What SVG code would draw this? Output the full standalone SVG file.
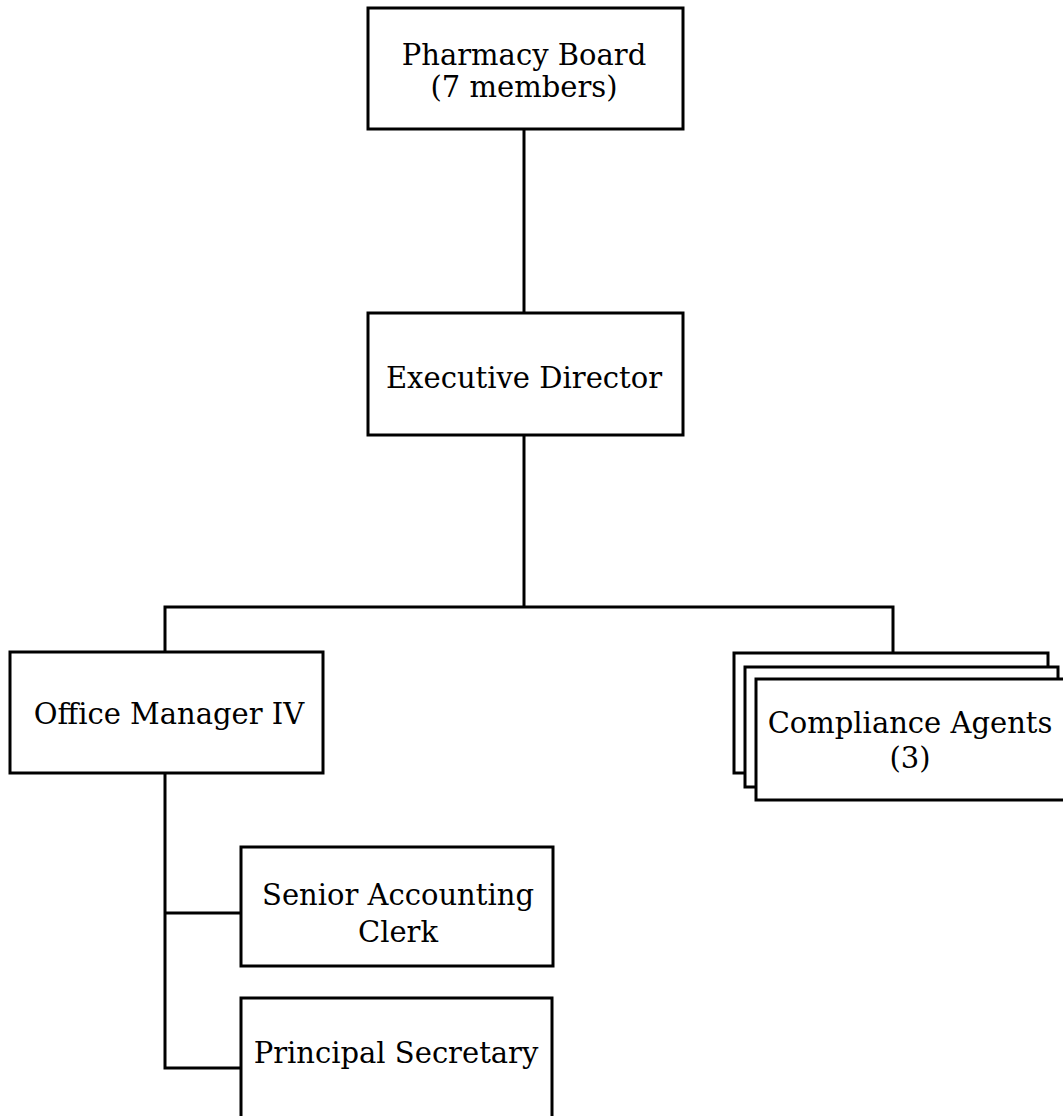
<svg xmlns="http://www.w3.org/2000/svg" width="1063" height="1116" viewBox="0 0 1063 1116">
<style>
.box{fill:#fff;stroke:#000;stroke-width:3}
.ln{fill:none;stroke:#000;stroke-width:3}
text{font-family:"DejaVu Serif","Liberation Serif",serif;font-size:29px;fill:#000;text-anchor:middle}
</style>
<rect width="1063" height="1116" fill="#fff"/>
<g id="connectors">
<path class="ln" d="M524,129 V313"/>
<path class="ln" d="M524,435 V607"/>
<path class="ln" d="M165,652 V607 H893 V653"/>
<path class="ln" d="M165,773 V1068 H241"/>
<path class="ln" d="M165,913 H241"/>
</g>
<g id="pharmacy-board">
<rect class="box" x="368" y="8" width="315" height="121"/>
<text x="524" y="65">Pharmacy Board</text>
<text x="524" y="97">(7 members)</text>
</g>
<g id="executive-director">
<rect class="box" x="368" y="313" width="315" height="122"/>
<text x="524" y="388">Executive Director</text>
</g>
<g id="office-manager">
<rect class="box" x="10" y="652" width="313" height="121"/>
<text x="169" y="724">Office Manager IV</text>
</g>
<g id="compliance-agents">
<rect class="box" x="734" y="653" width="314" height="120"/>
<rect class="box" x="745" y="667" width="313" height="120"/>
<rect class="box" x="756" y="679" width="320" height="121"/>
<text x="910" y="733">Compliance Agents</text>
<text x="910" y="768">(3)</text>
</g>
<g id="senior-accounting-clerk">
<rect class="box" x="241" y="847" width="312" height="119"/>
<text x="398" y="905">Senior Accounting</text>
<text x="398" y="942">Clerk</text>
</g>
<g id="principal-secretary">
<rect class="box" x="241" y="998" width="311" height="130"/>
<text x="396" y="1063">Principal Secretary</text>
</g>
</svg>
